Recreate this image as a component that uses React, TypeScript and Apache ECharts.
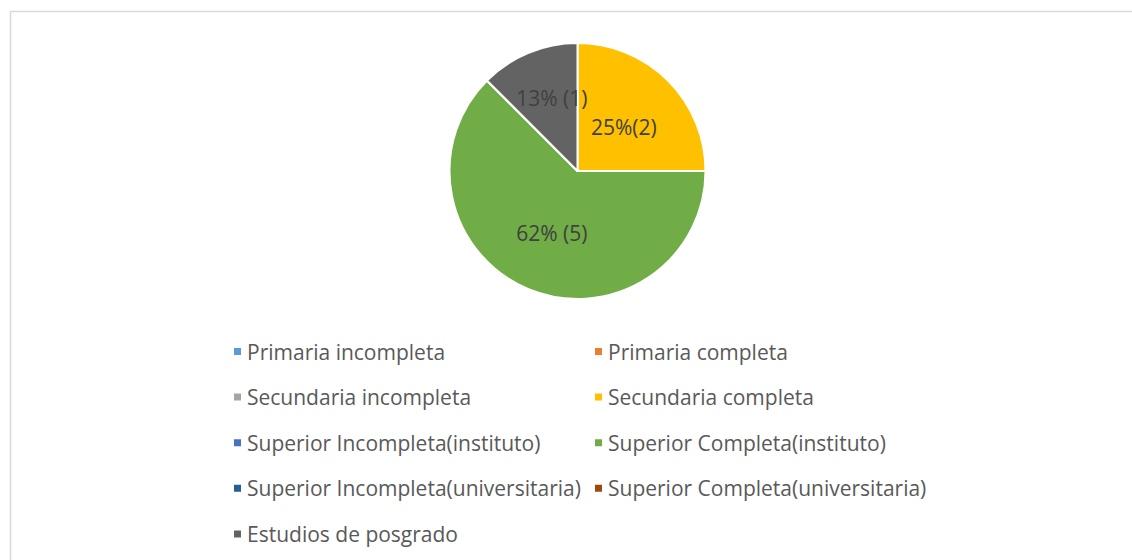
import React, { useEffect, useRef } from "react";
import * as echarts from "echarts";

const categories = [
  "Primaria incompleta",
  "Primaria completa",
  "Secundaria incompleta",
  "Secundaria completa",
  "Superior Incompleta(instituto)",
  "Superior Completa(instituto)",
  "Superior Incompleta(universitaria)",
  "Superior Completa(universitaria)",
  "Estudios de posgrado",
];
const values = [0, 0, 0, 2, 0, 5, 0, 0, 1];
const sliceLabels = ["", "", "", "25%(2)", "", "62% (5)", "", "", "13% (1)"];
const colors = [
  "#5B9BD5",
  "#ED7D31",
  "#A5A5A5",
  "#FFC000",
  "#4472C4",
  "#70AD47",
  "#255E91",
  "#9E480E",
  "#636363",
];

const FONT = "Open Sans";

export default function App() {
  const ref = useRef<HTMLDivElement>(null);
  useEffect(() => {
    if (!ref.current) return;
    const chart = echarts.init(ref.current, undefined, { renderer: "svg" });
    const leftNames = categories.filter((_, i) => i % 2 === 0);
    const rightNames = categories.filter((_, i) => i % 2 === 1);
    const legendCommon = {
      orient: "vertical" as const,
      icon: "rect",
      itemWidth: 9,
      itemHeight: 9,
      itemGap: 24.6,
      selectedMode: false,
      textStyle: {
        fontFamily: FONT,
        fontSize: 21,
        color: "#595959",
        lineHeight: 20,
      },
    };
    const labelOffsets: Record<number, number[]> = { 3: [-1, 3], 8: [0, -11] };
    chart.setOption({
      animation: false,
      color: colors,
      graphic: [
        {
          type: "rect",
          shape: { x: 10.5, y: 11.5, width: 1300, height: 700 },
          style: { fill: "none", stroke: "#d9d9d9", lineWidth: 1.5 },
          silent: true,
        },
      ],
      legend: [
        { ...legendCommon, left: 227, top: 336, data: leftNames },
        { ...legendCommon, left: 588, top: 336, data: rightNames },
      ],
      series: [
        {
          type: "pie",
          center: [577.5, 171],
          radius: 128,
          startAngle: 90,
          clockwise: true,
          avoidLabelOverlap: false,
          itemStyle: { borderColor: "#ffffff", borderWidth: 2 },
          label: {
            show: true,
            position: "inside",
            fontFamily: FONT,
            fontSize: 21,
            color: "#404040",
          },
          labelLine: { show: false },
          emphasis: { disabled: true },
          data: categories.map((name, i) => ({
            name,
            value: values[i],
            label: labelOffsets[i]
              ? { formatter: sliceLabels[i], offset: labelOffsets[i] }
              : { formatter: sliceLabels[i] },
          })),
        },
      ],
    });
    return () => chart.dispose();
  }, []);
  return (
    <div
      ref={ref}
      style={{ position: "absolute", left: 0, top: 0, width: 1132, height: 560 }}
    />
  );
}
